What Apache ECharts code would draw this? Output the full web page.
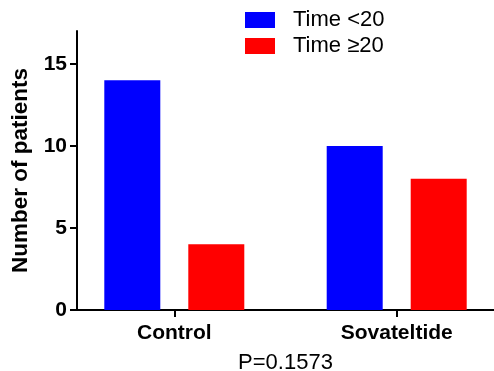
<!DOCTYPE html>
<html><head><meta charset="utf-8">
<script src="https://cdn.jsdelivr.net/npm/echarts@6/dist/echarts.min.js"></script>
<style>html,body{margin:0;padding:0;background:#fff}#c{width:494px;height:371px}</style>
</head><body><div id="c"></div>
<script>
const categories = ['Control', 'Sovateltide'];
const seriesNames = ['Time <20', 'Time \u226520'];
const timeLt20 = [14, 10];
const timeGe20 = [4, 8];
const yTicks = [0, 5, 10, 15];
const pText = 'P=0.1573';

const FONT = 'Liberation Sans, Arial, sans-serif';
const chart = echarts.init(document.getElementById('c'));
const toPairs = arr => arr.map((v, i) => [i, v]);
chart.setOption({
  animation: false,
  textStyle: { fontFamily: FONT, color: '#000' },
  grid: { left: 77, right: 0, top: 31, bottom: 61, containLabel: false, outerBoundsMode: 'none' },
  legend: {
    orient: 'vertical', left: 245, top: 9, padding: 0, itemGap: 4,
    itemWidth: 30, itemHeight: 16, icon: 'rect',
    data: seriesNames,
    textStyle: { fontFamily: FONT, fontSize: 22, color: '#000', padding: [0, 0, 0, 13] }
  },
  xAxis: {
    type: 'value', min: -0.4375, max: 1.4375,
    name: pText, nameLocation: 'middle', nameGap: 42,
    nameTextStyle: { fontFamily: FONT, fontSize: 22, color: '#000' },
    splitLine: { show: false },
    axisLine: { show: true, onZero: false, lineStyle: { color: '#000', width: 2 } },
    axisTick: { show: true, length: 7, customValues: [0, 1], lineStyle: { color: '#000', width: 2 } },
    axisLabel: { customValues: [0, 1], margin: 13, fontFamily: FONT, fontSize: 21, fontWeight: 'bold', color: '#000',
      formatter: v => categories[Math.round(v)] ?? '' }
  },
  yAxis: {
    type: 'value', min: 0, max: 17,
    name: 'Number of patients', nameLocation: 'middle', nameGap: 44,
    nameTextStyle: { fontFamily: FONT, fontSize: 22.5, fontWeight: 'bold', color: '#000' },
    splitLine: { show: false },
    axisLine: { show: true, onZero: false, lineStyle: { color: '#000', width: 2 } },
    axisTick: { show: true, length: 7, customValues: yTicks, lineStyle: { color: '#000', width: 2 } },
    axisLabel: { customValues: yTicks, margin: 10, fontFamily: FONT, fontSize: 21, fontWeight: 'bold', color: '#000' }
  },
  series: [
    { name: seriesNames[0], type: 'bar', data: toPairs(timeLt20), barWidth: 56, barGap: '50%',
      itemStyle: { color: '#0000ff' } },
    { name: seriesNames[1], type: 'bar', data: toPairs(timeGe20), barWidth: 56, barGap: '50%',
      itemStyle: { color: '#ff0000' } }
  ]
});
</script></body></html>
